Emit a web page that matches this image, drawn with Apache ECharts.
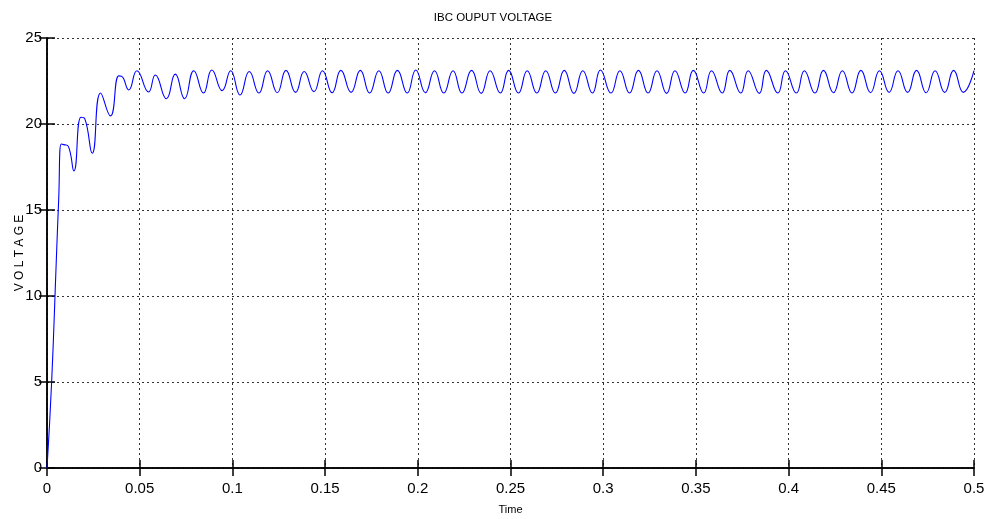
<!DOCTYPE html>
<html>
<head>
<meta charset="utf-8">
<script src="https://cdn.jsdelivr.net/npm/echarts@6/dist/echarts.min.js"></script>
<style>html,body{margin:0;padding:0;background:#fff;}#c{width:986px;height:519px;}</style>
</head>
<body>
<div id="c"></div>
<script>
const titleText = 'IBC OUPUT VOLTAGE';
const xName = 'Time';
const yName = 'V O L T A G E';
const xTicks = [0, 0.05, 0.1, 0.15, 0.2, 0.25, 0.3, 0.35, 0.4, 0.45, 0.5];
const yTicks = [0, 5, 10, 15, 20, 25];

const time = [
  0, 0.0025, 0.0050, 0.0063, 0.0077, 0.0091, 0.0115, 0.0145, 0.0183, 0.0204, 0.0244, 0.0289, 0.0342, 0.0387, 0.0402, 0.0441,
  0.0485, 0.0548, 0.0584, 0.0644, 0.0692, 0.0742, 0.0792, 0.0844, 0.0889, 0.0945,
  0.0991, 0.1041, 0.1091, 0.1143, 0.1190, 0.1242, 0.1289, 0.1341, 0.1387, 0.1440,
  0.1486, 0.1538, 0.1585, 0.1640, 0.1690, 0.1740, 0.1790, 0.1840, 0.1890, 0.1943,
  0.1989, 0.2041, 0.2090, 0.2140, 0.2190, 0.2238, 0.2290, 0.2342, 0.2390, 0.2445,
  0.2490, 0.2543, 0.2590, 0.2642, 0.2690, 0.2742, 0.2790, 0.2842, 0.2890, 0.2942,
  0.2985, 0.3042, 0.3090, 0.3142, 0.3190, 0.3242, 0.3290, 0.3342, 0.3387, 0.3442,
  0.3486, 0.3542, 0.3584, 0.3642, 0.3683, 0.3742, 0.3782, 0.3842, 0.3880, 0.3942,
  0.3983, 0.4042, 0.4085, 0.4142, 0.4188, 0.4242, 0.4290, 0.4342, 0.4390, 0.4442,
  0.4490, 0.4542, 0.4590, 0.4642, 0.4690, 0.4742, 0.4790, 0.4842, 0.4890, 0.4942,
  0.5000
];
const voltage = [
  0, 5.0, 12.0, 15.6, 18.84, 18.8, 18.7, 17.27, 20.39, 20.3, 18.3, 21.8, 20.47, 22.8, 22.78, 21.98,
  23.10, 21.86, 22.85, 21.47, 22.90, 21.47, 23.10, 21.80, 23.14, 21.94,
  23.10, 21.69, 23.05, 21.80, 23.10, 21.82, 23.12, 21.84, 23.05, 21.88,
  23.10, 21.82, 23.12, 21.84, 23.12, 21.80, 23.10, 21.80, 23.12, 21.80,
  23.14, 21.82, 23.10, 21.80, 23.10, 21.80, 23.12, 21.78, 23.10, 21.80,
  23.12, 21.80, 23.10, 21.80, 23.10, 21.80, 23.12, 21.78, 23.10, 21.80,
  23.14, 21.80, 23.10, 21.80, 23.12, 21.80, 23.10, 21.78, 23.10, 21.80,
  23.12, 21.80, 23.10, 21.80, 23.12, 21.80, 23.10, 21.78, 23.12, 21.80,
  23.10, 21.80, 23.10, 21.80, 23.12, 21.82, 23.10, 21.80, 23.12, 21.82,
  23.10, 21.84, 23.10, 21.84, 23.12, 21.82, 23.10, 21.84, 23.12, 21.84,
  23.10
];

const FONT = '"Liberation Sans", Arial, sans-serif';
const fmt = v => String(+v.toFixed(2));
const gridLine = { show: true, lineStyle: { color: '#333', type: [2, 3], width: 1 } };

const chart = echarts.init(document.getElementById('c'), null, { renderer: 'canvas' });
chart.setOption({
  backgroundColor: '#fff',
  animation: false,
  title: {
    text: titleText, left: 'center', top: 7,
    textStyle: { fontFamily: FONT, fontSize: 11.5, fontWeight: 'normal', color: '#000' }
  },
  grid: { left: 47, right: 12, top: 38, bottom: 51, containLabel: false, outerBoundsMode: 'none' },
  xAxis: [{
    type: 'value', min: xTicks[0], max: xTicks[xTicks.length - 1], interval: 0.05,
    name: xName, nameLocation: 'middle', nameGap: 36, nameMoveOverlap: false,
    nameTextStyle: { fontFamily: FONT, fontSize: 11, color: '#000' },
    axisLine: { show: true, onZero: false, lineStyle: { color: '#000', width: 1.5 } },
    axisTick: { show: true, inside: true, length: 8, lineStyle: { color: '#000', width: 1.5 } },
    axisLabel: { formatter: fmt, fontFamily: FONT, fontSize: 15, color: '#000', margin: 13 },
    splitLine: gridLine
  }, {
    type: 'value', position: 'top', min: xTicks[0], max: xTicks[xTicks.length - 1], interval: 0.05,
    axisLine: { show: true, lineStyle: { color: '#000', width: 1.5 } },
    axisTick: { show: true, inside: true, length: 8, lineStyle: { color: '#000', width: 1.5 } },
    axisLabel: { show: false }, splitLine: { show: false }
  }],
  yAxis: [{
    type: 'value', min: yTicks[0], max: yTicks[yTicks.length - 1], interval: 5,
    name: yName, nameLocation: 'middle', nameGap: 21, nameRotate: 90, nameMoveOverlap: false,
    nameTextStyle: { fontFamily: FONT, fontSize: 12, color: '#000' },
    axisLine: { show: true, lineStyle: { color: '#000', width: 1.5 } },
    axisTick: { show: true, inside: true, length: 8, lineStyle: { color: '#000', width: 1.5 } },
    axisLabel: { fontFamily: FONT, fontSize: 15, color: '#000', margin: 5 },
    splitLine: gridLine
  }, {
    type: 'value', position: 'right', min: yTicks[0], max: yTicks[yTicks.length - 1], interval: 5,
    axisLine: { show: true, lineStyle: { color: '#000', width: 1.5 } },
    axisTick: { show: true, inside: true, length: 8, lineStyle: { color: '#000', width: 1.5 } },
    axisLabel: { show: false }, splitLine: { show: false }
  }],
  series: [{
    type: 'line', xAxisIndex: 0, yAxisIndex: 0,
    data: time.map((t, i) => [t, voltage[i]]),
    smooth: 0.5, showSymbol: false,
    lineStyle: { color: '#0000ff', width: 1.1 },
    itemStyle: { color: '#0000ff' }
  }]
});
</script>
</body>
</html>
